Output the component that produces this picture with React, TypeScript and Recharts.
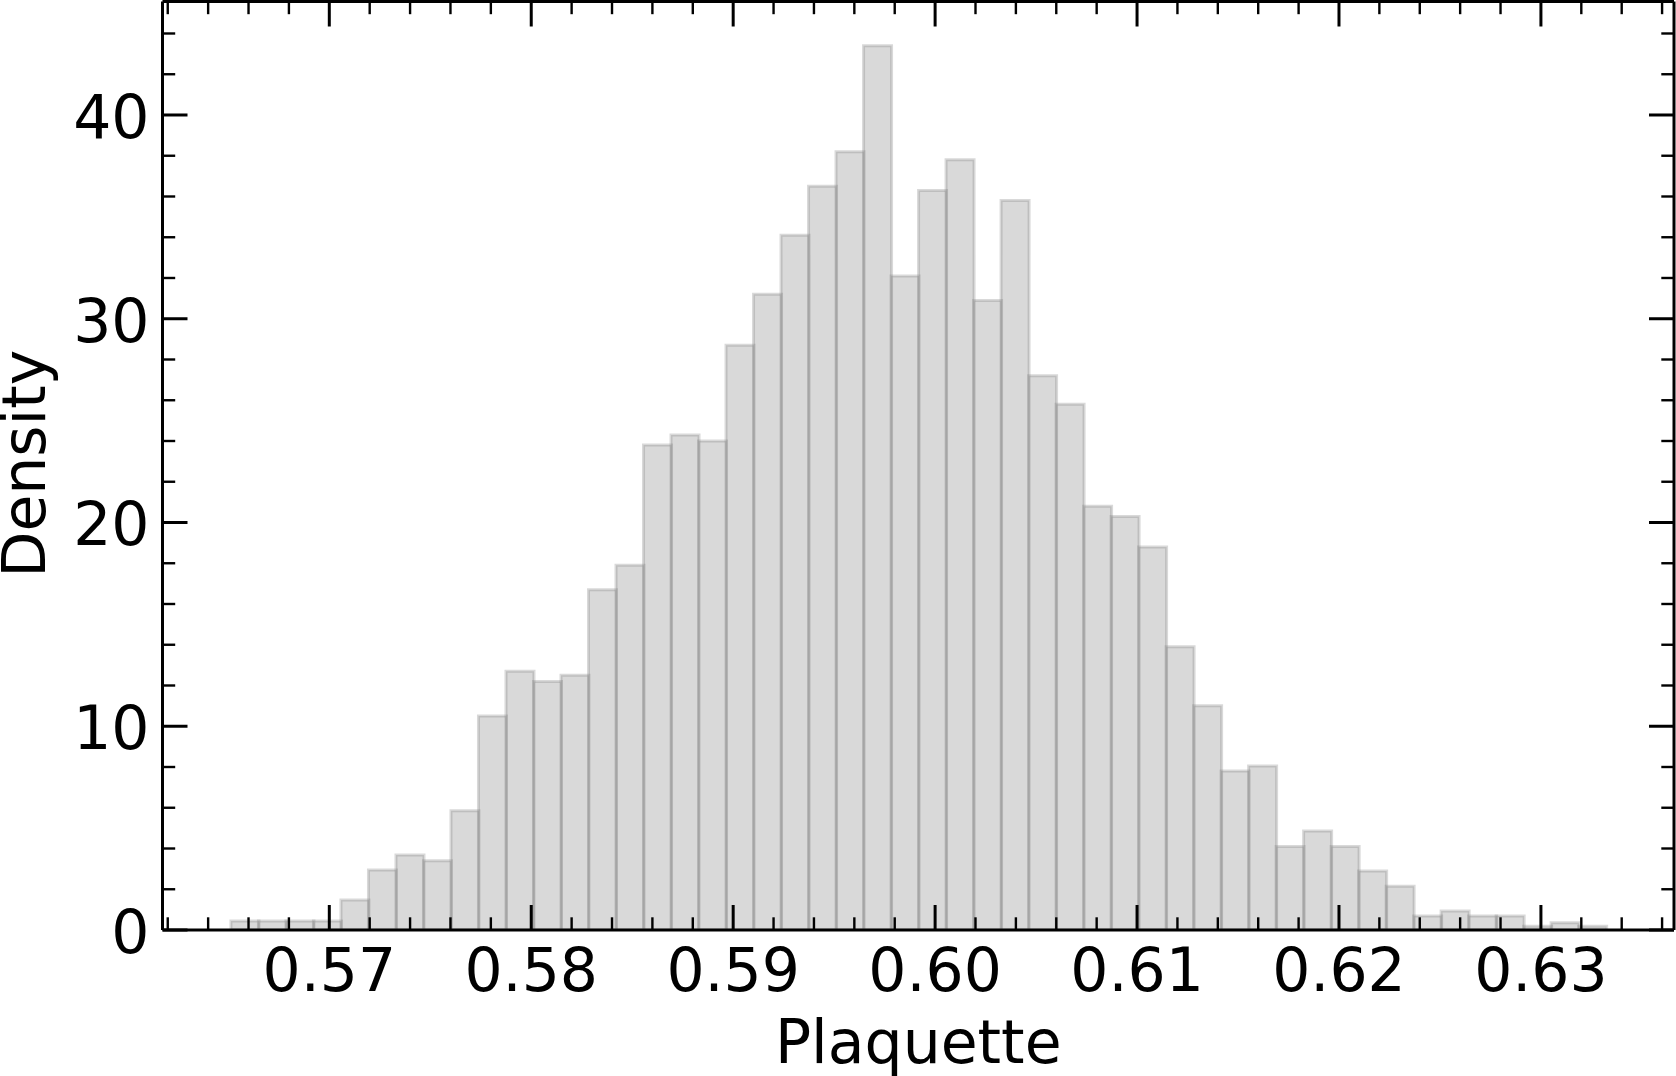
import { BarChart, Bar, XAxis, YAxis } from 'recharts'

// histogram bins (left edge of first bin, width of each bin)
const BIN_START = 0.56513
const BIN_WIDTH = 0.001362

// density per bin
const densities = [
  0.44, 0.44, 0.44, 0.44, 1.47, 2.94, 3.68, 3.4, 5.85, 10.5,
  12.7, 12.2, 12.5, 16.7, 17.9, 23.8, 24.3, 24.0, 28.7, 31.2,
  34.1, 36.5, 38.2, 43.4, 32.1, 36.3, 37.8, 30.9, 35.8, 27.2,
  25.8, 20.8, 20.3, 18.8, 13.9, 11.0, 7.8, 8.05, 4.1, 4.86,
  4.1, 2.9, 2.15, 0.69, 0.93, 0.69, 0.69, 0.18, 0.36, 0.18,
]

const xTicks = [
  0.562, 0.564, 0.566, 0.568, 0.57, 0.572, 0.574, 0.576, 0.578, 0.58,
  0.582, 0.584, 0.586, 0.588, 0.59, 0.592, 0.594, 0.596, 0.598, 0.6,
  0.602, 0.604, 0.606, 0.608, 0.61, 0.612, 0.614, 0.616, 0.618, 0.62,
  0.622, 0.624, 0.626, 0.628, 0.63, 0.632, 0.634, 0.636,
]
const xMajorLabels = ['0.57', '0.58', '0.59', '0.60', '0.61', '0.62', '0.63']

const yTicks = [0, 2, 4, 6, 8, 10, 12, 14, 16, 18, 20, 22, 24, 26, 28, 30, 32, 34, 36, 38, 40, 42, 44]
const yMajorLabels = ['0', '10', '20', '30', '40']

const X_DOMAIN = [0.56174, 0.63659]
const Y_DOMAIN = [0, 45.57]

const data = densities.map((d, i) => ({
  x: BIN_START + (i + 0.5) * BIN_WIDTH,
  density: d,
}))

const FONT = 'DejaVu Sans'
const MAJOR_LEN = 25
const MINOR_LEN = 12.7

const xLabel = (v: number) => xMajorLabels.find(l => Math.abs(parseFloat(l) - v) < 1e-6)
const yLabel = (v: number) => yMajorLabels.find(l => Math.abs(parseFloat(l) - v) < 1e-6)

const BottomTick = (props: any) => {
  const { x, y, payload } = props
  const label = xLabel(payload.value)
  return (
    <g>
      <line x1={x} x2={x} y1={y} y2={y - (label ? MAJOR_LEN : MINOR_LEN)} stroke="#000" strokeWidth={label ? 3 : 2.4} />
      {label && (
        <text x={x} y={y + 60.5} textAnchor="middle" fontSize={60} fontFamily={FONT} fill="#000">
          {label}
        </text>
      )}
    </g>
  )
}

const TopTick = (props: any) => {
  const { x, y, payload } = props
  const major = !!xLabel(payload.value)
  return <line x1={x} x2={x} y1={y} y2={y + (major ? MAJOR_LEN : MINOR_LEN)} stroke="#000" strokeWidth={major ? 3 : 2.4} />
}

const LeftTick = (props: any) => {
  const { x, y, payload } = props
  const label = yLabel(payload.value)
  return (
    <g>
      <line x1={x} x2={x + (label ? MAJOR_LEN : MINOR_LEN)} y1={y} y2={y} stroke="#000" strokeWidth={label ? 3 : 2.4} />
      {label && (
        <text x={x - 13} y={y + 23} textAnchor="end" fontSize={60} fontFamily={FONT} fill="#000">
          {label}
        </text>
      )}
    </g>
  )
}

const RightTick = (props: any) => {
  const { x, y, payload } = props
  const major = !!yLabel(payload.value)
  return <line x1={x} x2={x - (major ? MAJOR_LEN : MINOR_LEN)} y1={y} y2={y} stroke="#000" strokeWidth={major ? 3 : 2.4} />
}

const spine = { stroke: '#000', strokeWidth: 3 }

const App = () => {
  return (
    <div style={{ position: 'absolute', left: 0, top: 0, background: '#fff' }}>
      <BarChart
        width={1676}
        height={1076}
        data={data}
        margin={{ top: 0, right: 0, left: 0, bottom: 0 }}
        barCategoryGap={0}
        barGap={0}
      >
        <Bar
          dataKey="density"
          xAxisId="x"
          yAxisId="y"
          fill="#808080"
          fillOpacity={0.3}
          stroke="#808080"
          strokeOpacity={0.3}
          strokeWidth={3}
          isAnimationActive={false}
        />
        <XAxis
          xAxisId="x"
          dataKey="x"
          type="number"
          domain={X_DOMAIN}
          allowDataOverflow
          ticks={xTicks}
          interval={0}
          height={146}
          tickSize={0}
          tickMargin={0}
          tickLine={false}
          axisLine={spine}
          tick={<BottomTick />}
          label={({ viewBox }: any) => (
            <text
              x={viewBox.x + viewBox.width / 2}
              y={viewBox.y + 132.7}
              textAnchor="middle"
              fontSize={60}
              fontFamily={FONT}
              fill="#000"
            >
              Plaquette
            </text>
          )}
        />
        <XAxis
          xAxisId="top"
          dataKey="x"
          orientation="top"
          type="number"
          scale="linear"
          domain={X_DOMAIN}
          allowDataOverflow
          ticks={xTicks}
          interval={0}
          height={1.5}
          tickSize={0}
          tickMargin={0}
          tickLine={false}
          axisLine={spine}
          tick={<TopTick />}
        />
        <YAxis
          yAxisId="y"
          type="number"
          domain={Y_DOMAIN}
          allowDataOverflow
          ticks={yTicks}
          interval={0}
          width={162.5}
          tickSize={0}
          tickMargin={0}
          tickLine={false}
          axisLine={spine}
          tick={<LeftTick />}
          label={({ viewBox }: any) => {
            const cx = 45
            const cy = viewBox.y + viewBox.height / 2 - 2
            return (
              <text
                x={cx}
                y={cy}
                transform={`rotate(-90, ${cx}, ${cy})`}
                textAnchor="middle"
                fontSize={60}
                fontFamily={FONT}
                fill="#000"
              >
                Density
              </text>
            )
          }}
        />
        <YAxis
          yAxisId="right"
          orientation="right"
          type="number"
          domain={Y_DOMAIN}
          allowDataOverflow
          ticks={yTicks}
          interval={0}
          width={2}
          tickSize={0}
          tickMargin={0}
          tickLine={false}
          axisLine={spine}
          tick={<RightTick />}
        />
      </BarChart>
    </div>
  )
}

export default App
